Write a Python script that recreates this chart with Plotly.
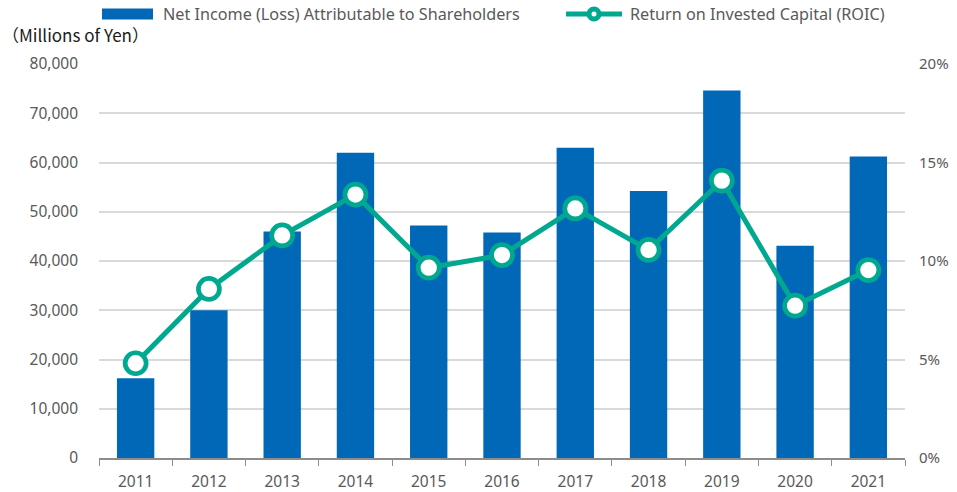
import plotly.graph_objects as go

years = ["2011", "2012", "2013", "2014", "2015", "2016", "2017", "2018", "2019", "2020", "2021"]
net_income = [16200, 30000, 46000, 62000, 47200, 45800, 63000, 54200, 74600, 43100, 61200]
roic = [4.81, 8.58, 11.3, 13.37, 9.66, 10.3, 12.67, 10.56, 14.08, 7.73, 9.54]

left_ticks = [0, 10000, 20000, 30000, 40000, 50000, 60000, 70000, 80000]
left_labels = ["0", "10,000", "20,000", "30,000", "40,000", "50,000", "60,000", "70,000", "80,000"]
right_ticks = [0, 5, 10, 15, 20]
right_labels = ["0%", "5%", "10%", "15%", "20%"]

BLUE = "#0068B7"
TEAL = "#00A88F"
GRAY = "#595959"
FONT = "Noto Sans"
TICKSIZE = 15.5

W, H = 957, 492
PL, PR, PT, PB = 99, 905, 64, 458   # plot area in window pixels

fig = go.Figure()
fig.add_trace(go.Bar(x=years, y=net_income, marker=dict(color=BLUE, line=dict(width=0)),
                     name="Net Income (Loss) Attributable to Shareholders", showlegend=False))
fig.add_trace(go.Scatter(x=years, y=roic, yaxis="y2", mode="lines+markers",
                         line=dict(color=TEAL, width=5),
                         marker=dict(size=21, color="white", line=dict(color=TEAL, width=4.7)),
                         name="Return on Invested Capital (ROIC)", showlegend=False))

fig.update_layout(
    width=W, height=H,
    margin=dict(l=PL, r=W - PR, t=PT, b=H - PB, autoexpand=False),
    showlegend=False,
    paper_bgcolor="white", plot_bgcolor="white",
    bargap=0.49,
    font=dict(family=FONT, size=TICKSIZE, color=GRAY),
    xaxis=dict(range=[-0.5, 10.5], showgrid=False, showline=True, linecolor="#8C8C8C", linewidth=1.5,
               ticks="outside", tickson="boundaries", ticklen=6, tickcolor="#8C8C8C",
               tickfont=dict(size=TICKSIZE, color=GRAY), ticklabelstandoff=9, automargin=False),
    yaxis=dict(range=[0, 80000], tickvals=left_ticks, ticktext=left_labels,
               showgrid=True, gridcolor="#D9D9D9", gridwidth=1.5, zeroline=False,
               showline=False, ticks="", tickfont=dict(size=TICKSIZE, color=GRAY),
               ticklabelstandoff=20, automargin=False),
    yaxis2=dict(range=[0, 20], tickvals=right_ticks, ticktext=right_labels,
                overlaying="y", side="right", showgrid=False, zeroline=False,
                showline=False, ticks="", tickfont=dict(size=15, color=GRAY),
                ticklabelstandoff=13, automargin=False),
)

def px_x(p):
    return (p - PL) / (PR - PL)

def px_y(p):
    return (PB - p) / (PB - PT)

shapes = [
    dict(type="rect", xref="paper", yref="paper", x0=px_x(102), x1=px_x(153), y0=px_y(19.5), y1=px_y(8.5),
         fillcolor=BLUE, line=dict(width=0)),
    dict(type="line", xref="paper", yref="paper", x0=px_x(566), x1=px_x(622), y0=px_y(14), y1=px_y(14),
         line=dict(color=TEAL, width=5)),
    dict(type="circle", xref="paper", yref="paper", xsizemode="pixel", ysizemode="pixel",
         xanchor=px_x(594), yanchor=px_y(14), x0=-5, x1=5, y0=-5, y1=5,
         fillcolor="white", line=dict(color=TEAL, width=5)),
]
annotations = [
    dict(text="Net Income (Loss) Attributable to Shareholders", xref="paper", yref="paper",
         x=px_x(161), y=px_y(14), xanchor="left", yanchor="middle", showarrow=False,
         font=dict(size=16.2, color=GRAY, family=FONT)),
    dict(text="Return on Invested Capital (ROIC)", xref="paper", yref="paper",
         x=px_x(628), y=px_y(14), xanchor="left", yanchor="middle", showarrow=False,
         font=dict(size=16.2, color=GRAY, family=FONT)),
    dict(text="（Millions of Yen）", xref="paper", yref="paper",
         x=px_x(0), y=px_y(35), xanchor="left", yanchor="middle", showarrow=False,
         font=dict(size=17, color="#1a1a1a", family="Noto Sans CJK JP")),
]
fig.update_layout(shapes=shapes, annotations=annotations)

fig.write_html("out.html", config={"displayModeBar": False},
               post_script="document.body.style.margin='0';")
